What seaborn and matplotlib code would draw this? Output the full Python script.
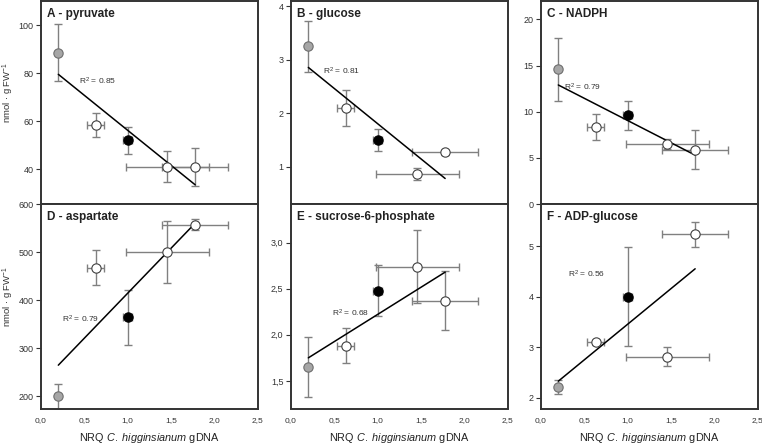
import numpy as np
import pandas as pd
import matplotlib.pyplot as plt
import seaborn as sns

sns.set_theme(style="ticks")
plt.rcParams['font.family'] = ['Liberation Sans', 'DejaVu Sans']
plt.rcParams['mathtext.fontset'] = 'custom'
plt.rcParams['mathtext.rm'] = 'Liberation Sans'
plt.rcParams['mathtext.it'] = 'Liberation Sans:italic'

# NRQ C. higginsianum gDNA (shared x values for all panels)
nrq = [0.20, 0.63, 1.00, 1.46, 1.78]
nrq_err = [0.0, 0.10, 0.05, 0.48, 0.38]
groups = ["gray", "open", "black", "open", "open"]

titles = ["A - pyruvate", "B - glucose", "C - NADPH",
          "D - aspartate", "E - sucrose-6-phosphate", "F - ADP-glucose"]

pyruvate = [88.5, 58.5, 52.0, 41.0, 41.0]
pyruvate_err = [12.0, 5.0, 5.5, 6.5, 8.0]
glucose = [3.25, 2.10, 1.50, 0.86, 1.27]
glucose_err = [0.48, 0.34, 0.20, 0.12, 0.05]
nadph = [14.6, 8.3, 9.6, 6.5, 5.9]
nadph_err = [3.4, 1.4, 1.55, 0.5, 2.1]
aspartate = [200, 468, 365, 500, 557]
aspartate_err = [25, 37, 57, 65, 12]
suc6p = [1.65, 1.88, 2.48, 2.74, 2.37]
suc6p_err = [0.33, 0.19, 0.28, 0.40, 0.32]
adpglc = [2.22, 3.10, 4.00, 2.81, 5.23]
adpglc_err = [0.14, 0.05, 0.98, 0.19, 0.24]

# linear fits (intercept, slope) and R squared
fit_intercept = [85.3, 3.12, 13.86, 227.7, 1.632, 2.049]
fit_slope = [-29.1, -1.316, -4.81, 186.7, 0.589, 1.405]
r_squared = [0.85, 0.81, 0.79, 0.79, 0.68, 0.56]

series = [pyruvate, glucose, nadph, aspartate, suc6p, adpglc]
series_err = [pyruvate_err, glucose_err, nadph_err, aspartate_err, suc6p_err, adpglc_err]

# layout bits
ylims = [(25.5, 110), (0.3, 4.1), (0, 22), (175, 600), (1.2, 3.42), (1.79, 5.83)]
yticks = [[40, 60, 80, 100], [1, 2, 3, 4], [0, 5, 10, 15, 20],
          [200, 300, 400, 500, 600], [1.5, 2.0, 2.5, 3.0], [2, 3, 4, 5]]
r2_pos = [(0.44, 76.5), (0.37, 2.79), (0.27, 12.6), (0.24, 360), (0.47, 2.23), (0.31, 4.44)]

face = {"gray": "#a6a6a6", "open": "white", "black": "black"}
edge = {"gray": "#6e6e6e", "open": "#404040", "black": "black"}


def fmt(v, dec):
    return f"{v:.{dec}f}".replace(".", ",")


fig = plt.figure(figsize=(7.62, 4.44), dpi=100)
lefts = [41 / 762, 291 / 762, 541 / 762]
w = 216.5 / 762
rows = [(1 - 204 / 444, 203 / 444), (1 - 408.5 / 444, 204.5 / 444)]

for i in range(6):
    r, c = divmod(i, 3)
    ax = fig.add_axes([lefts[c], rows[r][0], w, rows[r][1]])
    df = pd.DataFrame({"x": nrq, "y": series[i], "yerr": series_err[i],
                       "xerr": nrq_err, "g": groups})

    # error bars
    for _, row in df.iterrows():
        ax.errorbar(row.x, row.y, yerr=row.yerr,
                    xerr=row.xerr if row.xerr > 0 else None,
                    fmt="none", ecolor="#808080", elinewidth=1.0,
                    capsize=3, capthick=1.0, zorder=2)

    # regression line
    xs = np.array([min(nrq), max(nrq)])
    fit = pd.DataFrame({"x": xs, "y": fit_intercept[i] + fit_slope[i] * xs})
    sns.lineplot(data=fit, x="x", y="y", ax=ax, color="black", lw=1.1, zorder=3)

    # points
    for g in ["gray", "open", "black"]:
        sub = df[df.g == g]
        sns.scatterplot(data=sub, x="x", y="y", ax=ax, s=45, color=face[g],
                        edgecolor=edge[g], linewidth=0.8, zorder=4, legend=False)

    ax.text(*r2_pos[i], f"R$^2$ = {r_squared[i]:.2f}", fontsize=6, color="#333333",
            ha="left", va="center")
    ax.text(0.03, 0.935, titles[i], transform=ax.transAxes, fontsize=8.5,
            fontweight="bold", color="#222222", ha="left", va="center")

    ax.set_xlim(0, 2.5)
    ax.set_ylim(*ylims[i])
    ax.set_yticks(yticks[i])
    if i == 4:
        ax.set_yticklabels([fmt(v, 1) for v in yticks[i]])
    ax.set_xticks([0, 0.5, 1.0, 1.5, 2.0, 2.5])
    if r == 1:
        ax.set_xticklabels([fmt(v, 1) for v in [0, 0.5, 1.0, 1.5, 2.0, 2.5]])
        ax.set_xlabel("NRQ $\\it{C.}$ $\\it{higginsianum}$ gDNA", fontsize=7.8,
                      color="#222222", labelpad=5.5)
        ax.tick_params(axis="x", length=0, labelsize=6, colors="#333333", pad=6)
    else:
        ax.set_xlabel("")
        ax.tick_params(axis="x", bottom=False, labelbottom=False)
    if c == 0:
        ax.set_ylabel("nmol · g FW$^{-1}$", fontsize=6.8, color="#333333")
        ax.yaxis.set_label_coords(-0.115, 0.55)
    else:
        ax.set_ylabel("")
    ax.tick_params(axis="y", length=3.5, width=0.8, labelsize=6.5, colors="#333333", pad=2)
    for s in ax.spines.values():
        s.set_visible(True)
        s.set_linewidth(1.4)
        s.set_color("#333333")

fig.savefig("out.png", dpi=100)
